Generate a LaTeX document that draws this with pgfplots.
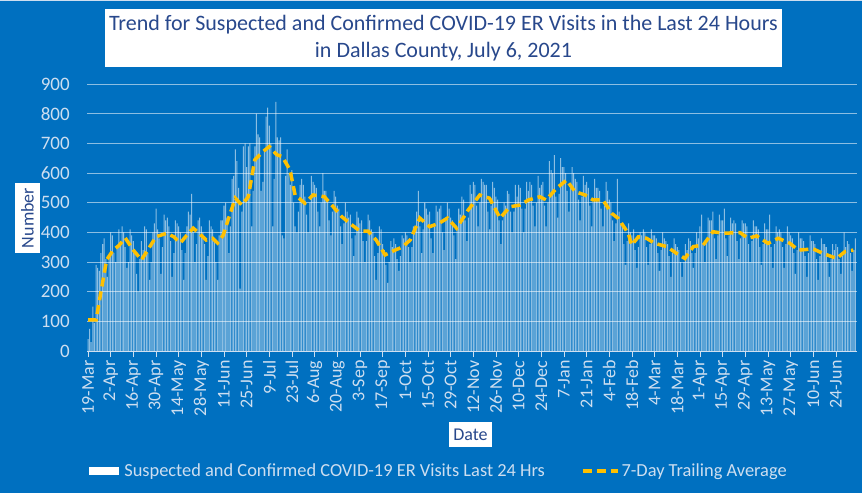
\documentclass[border=0pt]{standalone}
\usepackage{pgfplots}
\pgfplotsset{compat=1.18}
\usepackage{pgfplotstable}
\usepackage{fontspec}
\setmainfont{Carlito}
\definecolor{bg}{RGB}{0,112,192}
\definecolor{lbl}{RGB}{205,222,240}
\definecolor{navy}{RGB}{40,72,140}
\definecolor{avg}{RGB}{255,192,0}

\pgfplotstableread[row sep=\\, header=false]{
40\\75\\30\\150\\95\\290\\280\\
270\\330\\360\\380\\310\\250\\320\\
400\\390\\330\\300\\350\\410\\360\\
420\\400\\350\\280\\300\\410\\390\\
370\\330\\260\\200\\310\\370\\340\\
420\\410\\330\\240\\300\\400\\430\\
480\\410\\380\\260\\350\\460\\440\\
450\\420\\370\\250\\330\\440\\430\\
420\\400\\340\\240\\330\\420\\470\\
460\\530\\400\\300\\360\\440\\450\\
420\\400\\360\\240\\320\\440\\420\\
410\\380\\300\\240\\390\\440\\440\\
490\\500\\450\\330\\420\\580\\590\\
680\\640\\550\\210\\470\\690\\700\\
620\\690\\700\\420\\540\\690\\800\\
730\\720\\540\\570\\680\\790\\820\\
760\\700\\420\\580\\840\\720\\710\\
720\\390\\380\\590\\680\\600\\560\\
610\\500\\420\\400\\470\\560\\580\\
560\\520\\460\\400\\500\\590\\570\\
560\\550\\470\\420\\500\\600\\540\\
540\\510\\440\\390\\470\\540\\520\\
490\\480\\420\\360\\430\\500\\470\\
450\\460\\380\\320\\390\\470\\450\\
430\\440\\370\\300\\370\\460\\440\\
410\\400\\320\\240\\330\\420\\410\\
360\\340\\290\\230\\300\\370\\350\\
380\\360\\310\\270\\320\\390\\380\\
400\\390\\350\\300\\350\\420\\410\\
470\\540\\420\\330\\410\\500\\480\\
460\\470\\380\\330\\420\\490\\470\\
480\\490\\400\\340\\440\\500\\480\\
450\\440\\390\\310\\410\\480\\460\\
520\\510\\440\\370\\450\\560\\530\\
570\\560\\490\\420\\500\\580\\570\\
560\\560\\470\\410\\490\\570\\550\\
520\\510\\440\\360\\440\\500\\490\\
540\\530\\470\\400\\470\\560\\520\\
560\\550\\480\\400\\480\\570\\540\\
570\\560\\490\\420\\500\\590\\550\\
560\\570\\490\\420\\500\\640\\610\\
600\\660\\520\\450\\530\\650\\620\\
620\\600\\540\\470\\550\\620\\600\\
580\\570\\510\\440\\520\\590\\560\\
570\\550\\490\\420\\500\\580\\550\\
550\\540\\480\\420\\490\\570\\540\\
510\\500\\440\\370\\430\\580\\470\\
430\\420\\360\\290\\370\\430\\400\\
390\\410\\340\\280\\350\\400\\390\\
410\\400\\350\\290\\360\\410\\390\\
390\\380\\330\\270\\340\\400\\380\\
370\\360\\320\\250\\330\\380\\360\\
350\\340\\300\\250\\300\\360\\340\\
380\\370\\330\\280\\330\\400\\380\\
420\\460\\360\\300\\370\\450\\440\\
440\\470\\380\\310\\390\\460\\440\\
440\\480\\380\\320\\390\\450\\430\\
440\\430\\370\\310\\380\\440\\430\\
430\\420\\360\\300\\370\\440\\420\\
420\\410\\350\\290\\360\\430\\410\\
410\\460\\350\\280\\360\\420\\400\\
410\\400\\350\\280\\360\\420\\400\\
390\\380\\330\\260\\340\\400\\380\\
380\\370\\320\\250\\330\\390\\370\\
370\\360\\310\\240\\320\\380\\360\\
360\\350\\300\\250\\310\\360\\340\\
360\\350\\310\\260\\320\\400\\350\\
370\\360\\330\\270\\340\\380\\
}\daily

\begin{document}
\begin{tikzpicture}[x=1pt,y=1pt]
\fill[bg] (0,0) rectangle (862,493);
\draw[lbl, line width=1pt] (0,492.5) -- (862,492.5);
\begin{axis}[
  at={(87.2pt,142pt)}, anchor=south west,
  scale only axis, width=769.8pt, height=267pt,
  xmin=-0.5, xmax=475, ymin=0, ymax=900,
  ytick={0,100,...,900},
  xtick={0,14,...,462},
  xticklabels={19-Mar,2-Apr,16-Apr,30-Apr,14-May,28-May,11-Jun,25-Jun,9-Jul,23-Jul,6-Aug,20-Aug,3-Sep,17-Sep,1-Oct,15-Oct,29-Oct,12-Nov,26-Nov,10-Dec,24-Dec,7-Jan,21-Jan,4-Feb,18-Feb,4-Mar,18-Mar,1-Apr,15-Apr,29-Apr,13-May,27-May,10-Jun,24-Jun},
  /pgf/number format/assume math mode=true,
  x tick label style={rotate=90, anchor=east, font=\fontsize{18}{20}\selectfont, text=lbl},
  y tick label style={font=\fontsize{19}{21}\selectfont, text=lbl, xshift=-8pt},
  ymajorgrids, major grid style={white, opacity=0.55, line width=0.9pt},
  axis lines*=left,
  x axis line style={lbl, line width=0.8pt},
  y axis line style={draw=none},
  xtick style={lbl, line width=0.8pt},
  ytick style={draw=none},
  tick align=outside, major tick length=6pt,
  legend style={at={(0.457,-0.449)}, anchor=center, draw=none, fill=none,
    text=lbl, font=\fontsize{18.4}{20}\selectfont},
  legend columns=2,
  legend cell align=left,
  /tikz/every even column/.append style={column sep=34pt},
]
\addplot[ybar, bar width=0.62, fill=white, fill opacity=0.55, draw=none,
  legend image code/.code={\fill[white, fill opacity=1] (0pt,-4pt) rectangle (30pt,4pt); \path (33pt,0pt);}]
  table[x expr=\coordindex, y index=0] {\daily};
\addlegendentry{Suspected and Confirmed COVID-19 ER Visits Last 24 Hrs}
\addplot[avg, line width=3.5pt, dash pattern=on 9pt off 5pt,
  legend image code/.code={\draw[avg, line width=3.5pt, dash pattern=on 9pt off 5pt] (0pt,0pt) -- (35pt,0pt);}]
  coordinates {(0,105)(5,105)(8,200)(11.5,307)(15.5,340)(19,355)(23,381)(28,340)(33,307)(38,350)(42,385)(48.6,397)(53,385)(57,364)(61,390)(65,414)(69,395)(73,374)(77,380)(80,364)(83.5,390)(87,450)(91,515)(95,492)(99,520)(103,644)(108,672)(112,689)(116.5,662)(120,655)(124.8,610)(127.9,526)(134,498)(139,526)(146,520)(151.5,486)(156.7,453)(163,425)(168,404)(173,404)(178,374)(183.5,324)(189.6,340)(194,350)(199,374)(205,448)(211,419)(217,431)(222,448)(227.7,414)(234.8,475)(242,526)(248,515)(254.5,448)(260.6,486)(266.8,492)(272,509)(279,520)(283,509)(289.5,549)(295.6,576)(300.8,537)(307,526)(312,509)(318,509)(323.5,464)(327.5,447)(333.7,397)(335.8,357)(340,385)(345,380)(350,363)(357.4,352)(363.6,329)(368.7,312)(373.9,352)(380,357)(386,402)(392.4,397)(402.7,399)(407.8,380)(413,388)(420,363)(426.3,380)(433.6,363)(438.7,340)(448,344)(454,329)(462.4,312)(467.6,335)(472.7,340)};
\addlegendentry{7-Day Trailing Average}
\end{axis}
\node[fill=white, minimum width=677pt, minimum height=58pt, align=center, text=navy,
  font=\fontsize{22}{27}\selectfont] at (443.5,455)
  {Trend for Suspected and Confirmed COVID-19 ER Visits in the Last 24 Hours\\in Dallas County, July 6, 2021};
\node[fill=white, rotate=90, text=navy, font=\fontsize{18}{20}\selectfont, inner sep=0pt,
  minimum width=70pt, minimum height=25pt] at (27.5,275) {Number};
\node[fill=white, text=navy, font=\fontsize{18}{20}\selectfont, inner sep=0pt,
  minimum width=43pt, minimum height=25pt] at (470.5,58.5) {Date};
\pgfresetboundingbox
\useasboundingbox (0,0) rectangle (862,493);
\end{tikzpicture}
\end{document}
